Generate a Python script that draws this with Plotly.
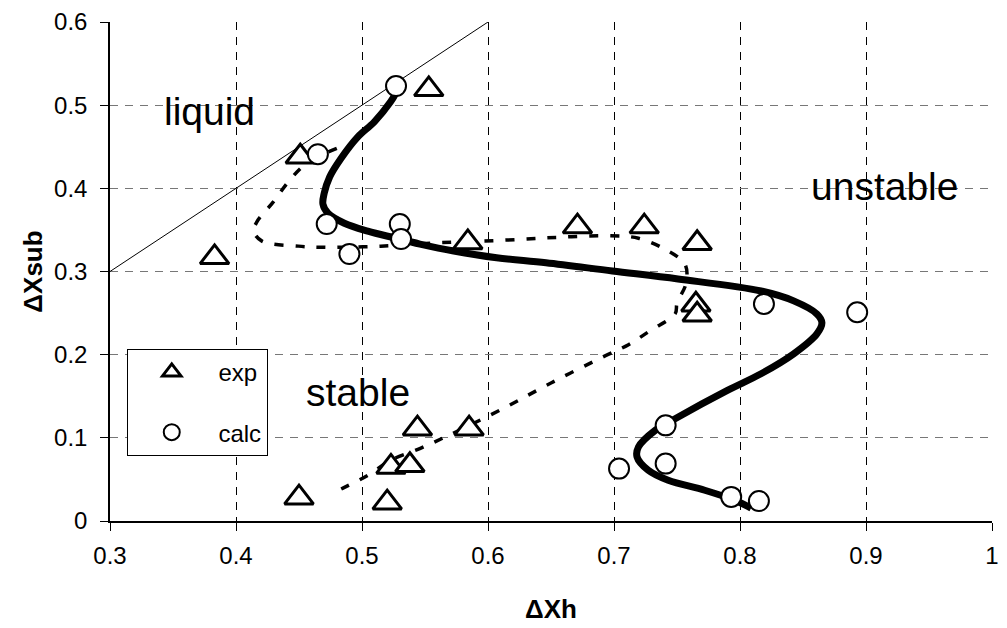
import plotly.graph_objects as go

# experimental points (triangles)
exp_x = [0.553, 0.451, 0.383, 0.584, 0.671, 0.724, 0.766, 0.765, 0.766,
         0.450, 0.520, 0.523, 0.538, 0.544, 0.585]
exp_y = [0.519, 0.438, 0.317, 0.335, 0.354, 0.354, 0.334, 0.260, 0.248,
         0.028, 0.022, 0.065, 0.067, 0.111, 0.111]

# calculated points (circles)
calc_x = [0.527, 0.465, 0.472, 0.530, 0.531, 0.490, 0.819, 0.893,
          0.741, 0.704, 0.741, 0.793, 0.815]
calc_y = [0.523, 0.441, 0.357, 0.357, 0.339, 0.321, 0.261, 0.251,
          0.115, 0.063, 0.069, 0.029, 0.024]

# boundary from calculation (thick solid)
fit_calc_x = [0.5266, 0.5227, 0.5098, 0.4967, 0.4833, 0.4744, 0.470, 0.469, 0.473,
              0.486, 0.5046, 0.5256, 0.546, 0.5728, 0.6068, 0.646, 0.6987, 0.7508,
              0.8167, 0.8426, 0.861, 0.865, 0.861, 0.8426, 0.8167, 0.790, 0.7485,
              0.7327, 0.7194, 0.7183, 0.7272, 0.743, 0.772, 0.7957, 0.8088]
fit_calc_y = [0.514, 0.504, 0.480, 0.462, 0.436, 0.414, 0.394, 0.381, 0.370,
              0.358, 0.3485, 0.3405, 0.333, 0.3246, 0.3165, 0.3105, 0.3006, 0.291,
              0.2766, 0.2647, 0.249, 0.2385, 0.225, 0.201, 0.177, 0.157, 0.123,
              0.109, 0.089, 0.077, 0.061, 0.049, 0.037, 0.025, 0.0156]

# boundary from experiment (dashed)
fit_exp_x = [0.480, 0.456, 0.4416, 0.4298, 0.4167, 0.4141, 0.4206, 0.4495, 0.4715,
             0.5148, 0.5596, 0.6092, 0.654, 0.6957, 0.7194, 0.7406, 0.7564, 0.757,
             0.750, 0.7485, 0.7288, 0.7115, 0.6908, 0.650, 0.6121, 0.5688, 0.5463,
             0.5227, 0.5046, 0.4849, 0.477]
fit_exp_y = [0.448, 0.430, 0.408, 0.384, 0.360, 0.3485, 0.3365, 0.3305, 0.329,
             0.3305, 0.3345, 0.3374, 0.341, 0.343, 0.340, 0.3266, 0.3086, 0.285,
             0.262, 0.249, 0.229, 0.212, 0.197, 0.166, 0.1353, 0.103, 0.0874,
             0.073, 0.055, 0.0395, 0.0335]

# liquid line
diag_x = [0.3, 0.6]
diag_y = [0.3, 0.6]

x_ticks = [0.3, 0.4, 0.5, 0.6, 0.7, 0.8, 0.9, 1.0]
y_ticks = [0, 0.1, 0.2, 0.3, 0.4, 0.5, 0.6]

FONT = "Arial, Liberation Sans, sans-serif"
NB = "\u00a0"

fig = go.Figure()
fig.add_trace(go.Scatter(x=diag_x, y=diag_y, mode="lines",
                         line=dict(color="black", width=1), showlegend=False))
fig.add_trace(go.Scatter(x=fit_exp_x, y=fit_exp_y, mode="lines",
                         line=dict(color="black", width=3.5, dash="9px,12px",
                                   shape="spline", smoothing=1),
                         showlegend=False))
fig.add_trace(go.Scatter(x=fit_calc_x, y=fit_calc_y, mode="lines",
                         line=dict(color="black", width=7, shape="spline", smoothing=1),
                         showlegend=False))
fig.add_trace(go.Scatter(x=exp_x, y=exp_y, mode="markers", name=NB * 4 + "exp",
                         legendgroup="a",
                         marker=dict(symbol="triangle-up", size=25, color="white",
                                     line=dict(color="black", width=3))))
fig.add_trace(go.Scatter(x=calc_x, y=calc_y, mode="markers", name=NB * 4 + "calc",
                         legendgroup="b",
                         marker=dict(symbol="circle", size=20, color="white",
                                     line=dict(color="black", width=2))))

ann_font = dict(family=FONT, size=39, color="black")
fig.add_annotation(x=0.3787, y=0.492, text="liquid", showarrow=False, font=ann_font)
fig.add_annotation(x=0.9145, y=0.402, text="unstable", showarrow=False, font=ann_font)
fig.add_annotation(x=0.4967, y=0.1545, text="stable", showarrow=False, font=ann_font)

fig.update_layout(
    width=1007, height=628,
    margin=dict(l=110, r=8, t=20, b=107),
    paper_bgcolor="white", plot_bgcolor="white",
    font=dict(family=FONT, color="black"),
    legend=dict(x=0.019, y=0.345, xanchor="left", yanchor="top",
                bgcolor="white", bordercolor="black", borderwidth=1,
                font=dict(family=FONT, size=24, color="black"),
                tracegroupgap=26, indentation=24),
    xaxis=dict(range=[0.3, 1.0], tickvals=x_ticks, ticks="outside", ticklen=8,
               tickcolor="black", showline=True, linecolor="black", linewidth=1.5,
               showgrid=True, gridcolor="black", gridwidth=1, griddash="8px,7px",
               zeroline=False, tickfont=dict(family=FONT, size=24),
               ticklabelstandoff=4,
               title=dict(text="<b>\u0394Xh</b>", font=dict(family=FONT, size=26),
                          standoff=32)),
    yaxis=dict(range=[0, 0.6], tickvals=y_ticks, ticks="outside", ticklen=8,
               tickcolor="black", showline=True, linecolor="black", linewidth=1.5,
               showgrid=True, gridcolor="#777777", gridwidth=1, griddash="8px,7px",
               zeroline=False, tickfont=dict(family=FONT, size=24),
               ticklabelstandoff=8,
               title=dict(text="<b>\u0394Xsub</b>", font=dict(family=FONT, size=26),
                          standoff=4)),
)

fig.write_html("out.html")
